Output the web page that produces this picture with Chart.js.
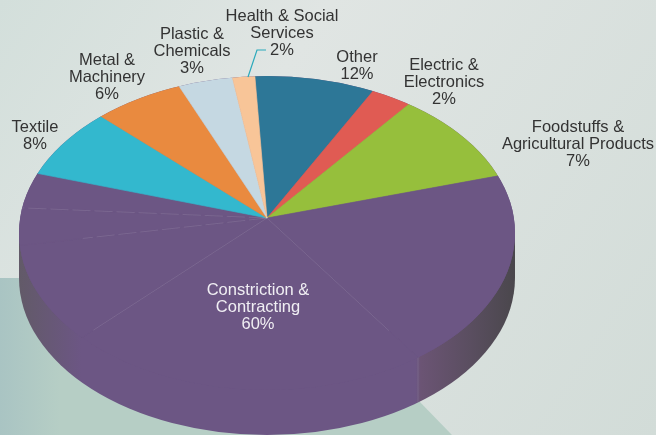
<!DOCTYPE html>
<html>
<head>
<meta charset="utf-8">
<title>Sector shares</title>
<style>
  html, body { margin: 0; padding: 0; background: #dfe5e3; }
  canvas { display: block; }
</style>
<script src="https://cdn.jsdelivr.net/npm/chart.js@4"></script>
</head>
<body>
<canvas id="pie" width="656" height="435"></canvas>
<script>
// The drawn wedges do not follow the printed percentages exactly, so both are kept.
const categories = ["Other", "Electric & Electronics", "Foodstuffs & Agricultural Products",
  "Constriction & Contracting", "Constriction & Contracting", "Constriction & Contracting",
  "Constriction & Contracting", "Constriction & Contracting",
  "Textile", "Metal & Machinery", "Plastic & Chemicals", "Health & Social Services"];
const sliceShares = [8.6, 2.9, 9.9, 19.9, 21.9, 9.9, 3.8, 3.7, 7.5, 6.4, 3.9, 1.6];
const sliceColours = ["#2d7797", "#e05b53", "#96bf3c", "#6c5684", "#6c5684", "#6c5684",
  "#6c5684", "#6c5684", "#33b8ce", "#e98a3f", "#c5d8e2", "#f8c598"];

const labelLines = [
  ["Other"], ["Electric &", "Electronics"], ["Foodstuffs &", "Agricultural Products"],
  ["Constriction &", "Contracting"], ["Textile"], ["Metal &", "Machinery"],
  ["Plastic &", "Chemicals"], ["Health & Social", "Services"]
];
const printedPercents = [12, 2, 7, 60, 8, 6, 3, 2];
const labelCentreX = [357, 444, 578, 258, 35, 107, 192, 282];
const labelTopLineY = [57, 65, 127, 290, 127, 60, 34, 16];

// faint seams left inside the big wedge: index of the slice they close, and how far they run
const seamSlices = [3, 4, 5, 6];
const seamReach = [216, 248, 187, 246];
const seamDashed = [false, false, true, true];

const face = { cx: 267, cy: 233, rx: 248, ry: 157, depth: 45 };
const apex = { x: 267, y: 218 };
const zoom = 1.3;

function facePath(ctx, offset) {
  ctx.beginPath();
  ctx.ellipse(face.cx, face.cy + offset, face.rx, face.ry, 0, 0, Math.PI * 2);
}

function drawBackdrop(ctx, w, h) {
  const sky = ctx.createLinearGradient(0, 0, w, h);
  sky.addColorStop(0, "#d3dfdb");
  sky.addColorStop(0.35, "#e0e5e3");
  sky.addColorStop(1, "#d2dcd8");
  ctx.fillStyle = sky;
  ctx.fillRect(0, 0, w, h);

  const ground = ctx.createLinearGradient(0, 0, 60, 0);
  ground.addColorStop(0, "#a9c4c3");
  ground.addColorStop(1, "#b6cec5");
  ctx.fillStyle = ground;
  ctx.beginPath();
  ctx.moveTo(0, 278);
  ctx.lineTo(70, 278);
  ctx.lineTo(418, 400);
  ctx.lineTo(452, h);
  ctx.lineTo(0, h);
  ctx.closePath();
  ctx.fill();
}

function drawSide(ctx) {
  const shade = ctx.createLinearGradient(face.cx - face.rx, 0, face.cx + face.rx, 0);
  shade.addColorStop(0, "#625a68");
  shade.addColorStop(0.125, "#6c5684");
  shade.addColorStop(0.8, "#6c5684");
  shade.addColorStop(0.81, "#6b5474");
  shade.addColorStop(0.91, "#5a4e60");
  shade.addColorStop(1, "#4a474c");
  ctx.fillStyle = shade;
  facePath(ctx, face.depth);
  ctx.fill();
  ctx.fillRect(face.cx - face.rx, face.cy, face.rx * 2, face.depth);
  ctx.strokeStyle = "rgba(255,255,255,0.14)";
  ctx.lineWidth = 0.7;
  ctx.beginPath();
  ctx.moveTo(418, 357);
  ctx.lineTo(418, 402);
  ctx.stroke();
}

const tiltPlugin = {
  id: "tilt",
  beforeDraw(chart) {
    drawBackdrop(chart.ctx, chart.width, chart.height);
  },
  beforeDatasetsDraw(chart) {
    const ctx = chart.ctx;
    const arc = chart.getDatasetMeta(0).data[0];
    drawSide(ctx);
    ctx.fillStyle = "#6c5684";
    facePath(ctx, 0);
    ctx.fill();
    ctx.save();
    facePath(ctx, 0);
    ctx.clip();
    ctx.translate(apex.x, apex.y);
    ctx.scale(zoom, zoom * face.ry / face.rx);
    ctx.translate(-arc.x, -arc.y);
  },
  afterDatasetsDraw(chart) {
    const ctx = chart.ctx;
    const arcs = chart.getDatasetMeta(0).data;
    ctx.strokeStyle = "rgba(255,255,255,0.2)";
    ctx.lineWidth = 0.5;
    seamSlices.forEach((slice, i) => {
      const a = arcs[slice];
      const reach = seamReach[i] / zoom;
      ctx.setLineDash(seamDashed[i] ? [14, 3] : []);
      ctx.beginPath();
      ctx.moveTo(a.x, a.y);
      ctx.lineTo(a.x + Math.cos(a.endAngle) * reach, a.y + Math.sin(a.endAngle) * reach);
      ctx.stroke();
    });
    ctx.setLineDash([]);
    ctx.restore();
  },
  afterDraw(chart) {
    const ctx = chart.ctx;
    ctx.strokeStyle = "#2aa9bb";
    ctx.lineWidth = 1.2;
    ctx.beginPath();
    ctx.moveTo(248, 77);
    ctx.lineTo(257, 50);
    ctx.lineTo(266, 50);
    ctx.stroke();

    ctx.font = '16.5px "Liberation Sans"';
    ctx.textAlign = "center";
    ctx.textBaseline = "middle";
    labelLines.forEach((lines, i) => {
      ctx.fillStyle = categories[3] === lines.join(" ") ? "#f0eef3" : "#333333";
      const rows = lines.concat(printedPercents[i] + "%");
      rows.forEach((row, r) => {
        ctx.fillText(row, labelCentreX[i], labelTopLineY[i] + r * 17);
      });
    });
  }
};

new Chart(document.getElementById("pie"), {
  type: "pie",
  data: {
    labels: categories,
    datasets: [{
      data: sliceShares,
      backgroundColor: sliceColours,
      borderColor: sliceColours,
      borderWidth: 0.6,
      clip: false
    }]
  },
  options: {
    responsive: false,
    animation: false,
    rotation: -3.1,
    plugins: { legend: { display: false }, tooltip: { enabled: false } }
  },
  plugins: [tiltPlugin]
});
</script>
</body>
</html>
